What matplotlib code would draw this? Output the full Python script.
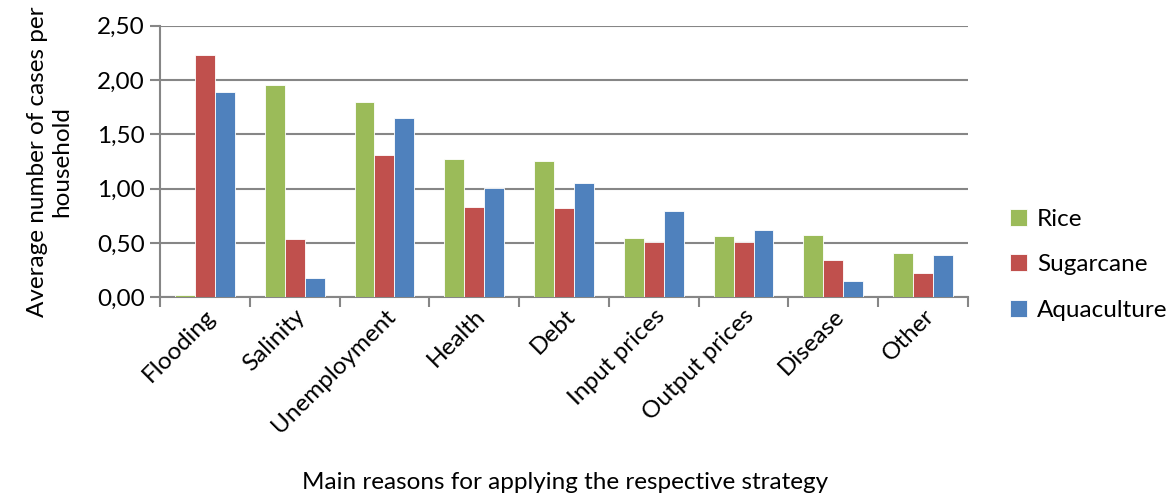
import numpy as np
import matplotlib
matplotlib.use("Agg")
from matplotlib import pyplot as plt

# data
categories = ["Flooding", "Salinity", "Unemployment", "Health", "Debt",
              "Input prices", "Output prices", "Disease", "Other"]
rice = [0.02, 1.95, 1.80, 1.27, 1.25, 0.55, 0.56, 0.57, 0.41]
sugarcane = [2.23, 0.54, 1.31, 0.83, 0.82, 0.51, 0.51, 0.34, 0.22]
aquaculture = [1.89, 0.18, 1.65, 1.01, 1.05, 0.79, 0.62, 0.15, 0.39]
series_names = ["Rice", "Sugarcane", "Aquaculture"]
colors = ["#9BBB59", "#C0504D", "#4F81BD"]
yticks = [0, 0.5, 1.0, 1.5, 2.0, 2.5]

plt.rcParams['font.family'] = ['Lato', 'DejaVu Sans']
fs = 17.5

fig = plt.figure(figsize=(11.72, 4.98), dpi=100)
ax = fig.add_axes([160/1172, 1 - 297.3/498, (968-160)/1172, (297.3-25.7)/498])

x = np.arange(len(categories))
w = 0.222
for i, (vals, name, c) in enumerate(zip([rice, sugarcane, aquaculture], series_names, colors)):
    ax.bar(x + (i - 1) * w, vals, width=w, color=c, label=name,
           edgecolor="white", linewidth=0.6, zorder=3)

ax.set_xlim(-0.5, len(categories) - 0.5)
ax.set_ylim(0, 2.5)
ax.set_yticks(yticks)
ax.set_yticklabels([f"{v:.2f}".replace(".", ",") for v in yticks], fontsize=fs)
ax.yaxis.grid(True, color="#868686", linewidth=1.5, zorder=0)

# category boundaries as tick marks
ax.set_xticks(np.arange(len(categories) + 1) - 0.5, minor=False)
ax.set_xticklabels([])
ax.set_xticks(x, minor=True)
ax.set_xticklabels(categories, minor=True, rotation=45, ha="right",
                   rotation_mode="anchor", fontsize=fs)
ax.tick_params(axis="x", which="major", length=7, width=1.5, color="#868686", direction="out")
ax.tick_params(axis="x", which="minor", length=0, pad=6)
ax.tick_params(axis="y", length=7, width=1.5, color="#868686", direction="out", pad=4)

for s in ["top", "right"]:
    ax.spines[s].set_visible(False)
for s in ["left", "bottom"]:
    ax.spines[s].set_color("#868686")
    ax.spines[s].set_linewidth(1.5)

ax.set_ylabel("Average number of cases per\nhousehold", fontsize=fs, labelpad=18)
fig.text(565/1172, 1 - 482/498, "Main reasons for applying the respective strategy",
         ha="center", va="center", fontsize=fs)

ax.legend(loc="center left", bbox_to_anchor=(1.025, 0.12), frameon=False,
          fontsize=fs, labelspacing=1.0, handlelength=0.7, handleheight=0.7,
          handletextpad=0.4)

fig.savefig("out.png", dpi=100)
